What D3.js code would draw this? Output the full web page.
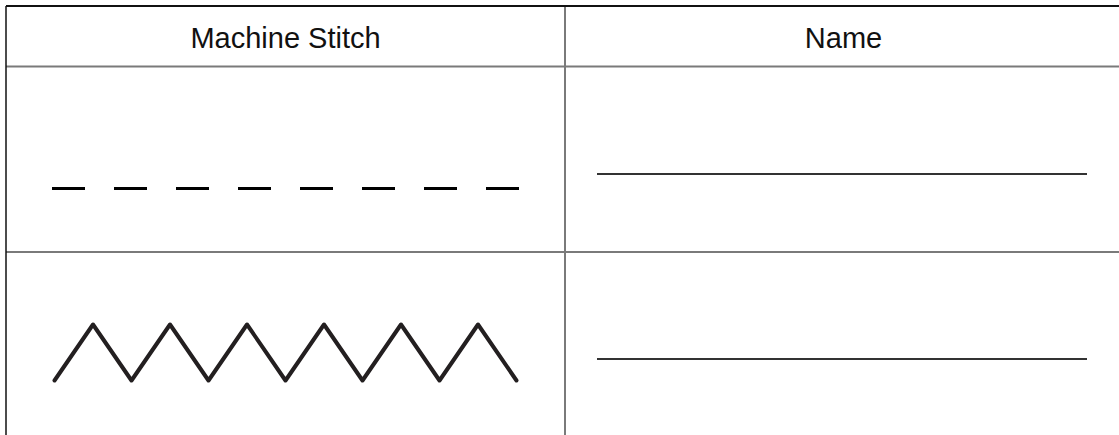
<!DOCTYPE html>
<meta charset="utf-8">
<style>
body { margin: 0; background: #fff; }
svg { display: block; }
text { font-family: "Liberation Sans", Arial, sans-serif; font-size: 29px; fill: #111; }
</style>
<svg width="1119" height="435"></svg>
<script src="https://d3js.org/d3.v7.min.js"></script>
<script>

// table content
var headers = ["Machine Stitch", "Name"];
var stitchRows = ["straight", "zigzag"];
var dashIndex = [0, 1, 2, 3, 4, 5, 6, 7];
var zigzagY = [0, 1, 0, 1, 0, 1, 0, 1, 0, 1, 0, 1, 0];

var svg = d3.select("svg");

// column and row layout
var col = d3.scaleLinear().domain([0, 1, 2]).range([6, 565, 1122]);
var row = d3.scaleLinear().domain([0, 1, 2, 3]).range([6, 66.5, 252, 437.5]);

// grid: inner lines gray, outer (top/left) dark
var grid = svg.append("g");
grid.selectAll("line.h")
    .data([1, 2])
    .enter().append("line")
      .attr("x1", col(0)).attr("x2", col(2))
      .attr("y1", function(d) { return row(d); })
      .attr("y2", function(d) { return row(d); })
      .attr("stroke", "#7a7a7a")
      .attr("stroke-width", 2);

grid.append("line")
    .attr("x1", col(1)).attr("x2", col(1))
    .attr("y1", row(0)).attr("y2", row(3))
    .attr("stroke", "#7a7a7a")
    .attr("stroke-width", 2);

grid.append("line")
    .attr("x1", col(0)).attr("x2", col(2))
    .attr("y1", row(0)).attr("y2", row(0))
    .attr("stroke", "#111")
    .attr("stroke-width", 1.8);

grid.append("line")
    .attr("x1", col(0)).attr("x2", col(0))
    .attr("y1", row(0)).attr("y2", row(3))
    .attr("stroke", "#111")
    .attr("stroke-width", 1.5);

// headers
svg.selectAll("text.head")
    .data(headers)
    .enter().append("text")
      .attr("class", "head")
      .attr("x", function(d, i) { return (col(i) + col(i + 1)) / 2; })
      .attr("y", 48)
      .attr("text-anchor", "middle")
      .text(function(d) { return d; });

// straight stitch: dashes
var dashX = d3.scaleLinear().domain([0, 7]).range([52, 486]);
var dashLen = 33;
var dashY = 188.5;
svg.append("g").selectAll("line")
    .data(dashIndex)
    .enter().append("line")
      .attr("x1", function(d) { return dashX(d); })
      .attr("x2", function(d) { return dashX(d) + dashLen; })
      .attr("y1", dashY).attr("y2", dashY)
      .attr("stroke", "#000")
      .attr("stroke-width", 3);

// zigzag stitch
var zx = d3.scaleLinear().domain([0, zigzagY.length - 1]).range([54.5, 516.5]);
var zy = d3.scaleLinear().domain([0, 1]).range([380.5, 324.5]);
svg.append("path")
    .datum(zigzagY)
    .attr("d", d3.line()
        .x(function(d, i) { return zx(i); })
        .y(function(d) { return zy(d); }))
    .attr("fill", "none")
    .attr("stroke", "#231f20")
    .attr("stroke-width", 4)
    .attr("stroke-linecap", "round")
    .attr("stroke-linejoin", "round");

// name blanks
var blankY = [174, 359];
svg.append("g").selectAll("line")
    .data(stitchRows)
    .enter().append("line")
      .attr("x1", 597).attr("x2", 1087)
      .attr("y1", function(d, i) { return blankY[i]; })
      .attr("y2", function(d, i) { return blankY[i]; })
      .attr("stroke", "#333")
      .attr("stroke-width", 2);

</script>
